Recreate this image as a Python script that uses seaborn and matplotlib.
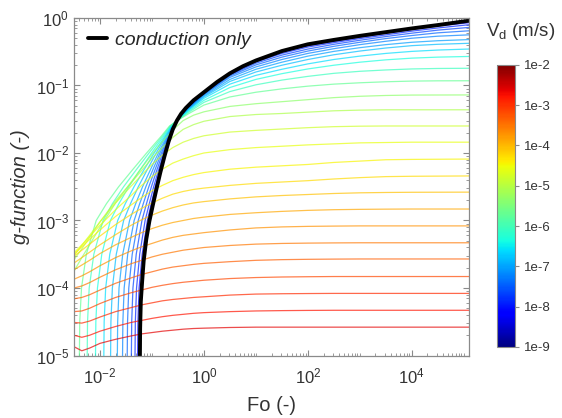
import numpy as np
import pandas as pd
import matplotlib
matplotlib.use("Agg")
import matplotlib.pyplot as plt
from matplotlib.colors import LogNorm
from matplotlib.ticker import LogLocator, NullFormatter, FixedLocator
import seaborn as sns

# log10(Vd) of each coloured curve, lowest plateau first
VD_EXP = [-2.62, -2.78, -2.95, -3.15, -3.33, -3.52, -3.70, -3.88, -4.07, -4.25,
          -4.45, -4.59, -4.80, -5.08, -5.36, -5.71, -6.06, -6.34, -6.62, -6.83,
          -7.04, -7.25, -7.46, -7.67, -7.88, -8.09]

# curves 0-14 start at the left edge: log10(g) read at these log10(Fo)
A_LOGFO = [-2.5, -2.35, -2.2, -2.0, -1.7, -1.4, -1.2, -1.0, -0.8, -0.6, -0.4,
           -0.2, 0.0, 0.5, 1.0, 1.5, 2.0, 2.5, 3.0, 3.5, 4.0, 5.1]
A_LOGG = [
    [-4.87, -4.93, -4.89, -4.82, -4.76, -4.71, -4.68, -4.66, -4.64, -4.625, -4.61, -4.60, -4.595, -4.585, -4.58, -4.58, -4.58, -4.58, -4.58, -4.58, -4.58, -4.58],
    [-4.70, -4.73, -4.70, -4.64, -4.57, -4.51, -4.48, -4.45, -4.425, -4.405, -4.39, -4.375, -4.365, -4.35, -4.34, -4.335, -4.332, -4.33, -4.33, -4.33, -4.33, -4.33],
    [-4.51, -4.52, -4.49, -4.43, -4.35, -4.29, -4.25, -4.22, -4.19, -4.17, -4.155, -4.14, -4.13, -4.105, -4.09, -4.085, -4.082, -4.08, -4.08, -4.08, -4.08, -4.08],
    [-4.35, -4.34, -4.30, -4.23, -4.14, -4.07, -4.03, -3.99, -3.96, -3.935, -3.915, -3.90, -3.885, -3.86, -3.845, -3.837, -3.833, -3.83, -3.83, -3.83, -3.83, -3.83],
    [-4.16, -4.14, -4.10, -4.03, -3.93, -3.85, -3.80, -3.76, -3.72, -3.69, -3.67, -3.65, -3.635, -3.61, -3.59, -3.58, -3.575, -3.572, -3.57, -3.57, -3.57, -3.57],
    [-4.00, -3.97, -3.92, -3.84, -3.73, -3.64, -3.59, -3.54, -3.50, -3.47, -3.44, -3.42, -3.40, -3.37, -3.35, -3.34, -3.335, -3.332, -3.33, -3.33, -3.33, -3.33],
    [-3.87, -3.82, -3.76, -3.67, -3.55, -3.45, -3.39, -3.34, -3.29, -3.25, -3.22, -3.20, -3.18, -3.14, -3.11, -3.095, -3.087, -3.083, -3.08, -3.08, -3.08, -3.08],
    [-3.73, -3.66, -3.59, -3.49, -3.36, -3.25, -3.18, -3.12, -3.07, -3.03, -3.00, -2.97, -2.95, -2.91, -2.885, -2.865, -2.85, -2.84, -2.835, -2.832, -2.83, -2.83],
    [-3.63, -3.55, -3.47, -3.36, -3.21, -3.07, -2.99, -2.92, -2.86, -2.81, -2.77, -2.74, -2.72, -2.68, -2.65, -2.63, -2.615, -2.60, -2.59, -2.585, -2.582, -2.58],
    [-3.53, -3.44, -3.35, -3.23, -3.06, -2.91, -2.82, -2.74, -2.67, -2.61, -2.57, -2.54, -2.52, -2.48, -2.45, -2.43, -2.41, -2.385, -2.365, -2.35, -2.345, -2.34],
    [-3.50, -3.39, -3.28, -3.14, -2.94, -2.77, -2.66, -2.56, -2.48, -2.41, -2.36, -2.32, -2.29, -2.24, -2.21, -2.19, -2.17, -2.14, -2.12, -2.10, -2.095, -2.09],
    [-3.48, -3.36, -3.24, -3.07, -2.84, -2.63, -2.48, -2.35, -2.24, -2.15, -2.09, -2.04, -2.00, -1.95, -1.92, -1.90, -1.88, -1.865, -1.85, -1.845, -1.84, -1.84],
    [-3.52, -3.37, -3.22, -3.02, -2.74, -2.49, -2.33, -2.17, -2.03, -1.92, -1.84, -1.785, -1.745, -1.69, -1.665, -1.645, -1.625, -1.61, -1.603, -1.60, -1.60, -1.60],
    [-3.58, -3.42, -3.25, -3.02, -2.71, -2.44, -2.26, -2.08, -1.92, -1.77, -1.65, -1.58, -1.53, -1.46, -1.43, -1.415, -1.395, -1.375, -1.365, -1.36, -1.36, -1.36],
    [-3.75, -3.55, -3.36, -3.10, -2.74, -2.43, -2.22, -2.02, -1.83, -1.66, -1.52, -1.44, -1.39, -1.31, -1.27, -1.24, -1.21, -1.18, -1.16, -1.148, -1.142, -1.14],
]

# curves 15-25 rise from the bottom: log10(Fo) read at these log10(g) ...
B_LEFT_LOGG = [-5.3, -4.5, -4.0, -3.5, -3.0, -2.75, -2.5, -2.25, -2.0, -1.75, -1.6]
B_LEFT_LOGFO = [
    [-2.400, -2.390, -2.356, -2.263, -2.073, -1.875, -1.641, -1.375, -1.103, -0.820, -0.662],
    [-2.250, -2.240, -2.208, -2.119, -1.941, -1.760, -1.546, -1.304, -1.057, -0.797, -0.651],
    [-2.090, -2.080, -2.049, -1.966, -1.800, -1.636, -1.446, -1.229, -1.007, -0.773, -0.640],
    [-1.930, -1.920, -1.891, -1.812, -1.660, -1.513, -1.345, -1.154, -0.957, -0.749, -0.629],
    [-1.800, -1.790, -1.762, -1.687, -1.545, -1.413, -1.263, -1.093, -0.917, -0.730, -0.620],
    [-1.670, -1.660, -1.634, -1.563, -1.431, -1.313, -1.181, -1.031, -0.877, -0.710, -0.610],
    [-1.570, -1.560, -1.535, -1.467, -1.343, -1.236, -1.118, -0.984, -0.846, -0.695, -0.603],
    [-1.480, -1.470, -1.446, -1.380, -1.264, -1.167, -1.061, -0.942, -0.818, -0.682, -0.597],
    [-1.400, -1.390, -1.366, -1.303, -1.193, -1.105, -1.011, -0.905, -0.793, -0.670, -0.592],
    [-1.330, -1.320, -1.297, -1.236, -1.132, -1.051, -0.967, -0.872, -0.771, -0.659, -0.587],
    [-1.280, -1.270, -1.248, -1.188, -1.088, -1.013, -0.935, -0.848, -0.756, -0.652, -0.583],
]
# ... and log10(g) read at these log10(Fo) once they have joined the bundle
B_RIGHT_LOGFO = [-0.5, -0.3, 0.0, 0.5, 1.0, 1.5, 2.0, 2.5, 3.0, 3.5, 4.0, 4.5, 5.1]
B_RIGHT_LOGG = [
    [-1.515, -1.42, -1.29, -1.17, -1.10, -1.05, -1.01, -0.98, -0.96, -0.945, -0.935, -0.931, -0.93],
    [-1.512, -1.40, -1.25, -1.09, -0.99, -0.92, -0.865, -0.82, -0.79, -0.77, -0.755, -0.748, -0.745],
    [-1.51, -1.385, -1.22, -1.03, -0.91, -0.825, -0.755, -0.70, -0.655, -0.62, -0.595, -0.58, -0.57],
    [-1.508, -1.37, -1.19, -0.98, -0.85, -0.76, -0.68, -0.615, -0.565, -0.525, -0.495, -0.475, -0.46],
    [-1.506, -1.36, -1.17, -0.94, -0.80, -0.70, -0.615, -0.545, -0.49, -0.445, -0.41, -0.39, -0.375],
    [-1.504, -1.35, -1.155, -0.91, -0.76, -0.655, -0.565, -0.495, -0.44, -0.395, -0.36, -0.337, -0.32],
    [-1.503, -1.34, -1.14, -0.88, -0.725, -0.615, -0.525, -0.455, -0.395, -0.345, -0.30, -0.27, -0.25],
    [-1.502, -1.33, -1.13, -0.86, -0.695, -0.58, -0.49, -0.42, -0.36, -0.305, -0.26, -0.22, -0.19],
    [-1.501, -1.325, -1.12, -0.845, -0.67, -0.55, -0.46, -0.39, -0.33, -0.275, -0.225, -0.18, -0.14],
    [-1.50, -1.32, -1.11, -0.835, -0.65, -0.525, -0.43, -0.365, -0.305, -0.25, -0.195, -0.148, -0.10],
    [-1.50, -1.315, -1.105, -0.825, -0.635, -0.505, -0.41, -0.345, -0.285, -0.225, -0.17, -0.12, -0.07],
]

# conduction only
COND_LOGFO = [-1.235, -1.228, -1.215, -1.19, -1.16, -1.11, -1.05, -0.98, -0.91, -0.84,
              -0.76, -0.68, -0.60, -0.52, -0.44, -0.35, -0.2, 0.0, 0.25, 0.5, 0.75,
              1.0, 1.5, 2.0, 2.5, 3.0, 3.5, 4.0, 4.5, 5.1]
COND_LOGG = [-5.3, -4.6, -4.2, -3.91, -3.60, -3.28, -3.01, -2.76, -2.52, -2.29,
             -2.05, -1.83, -1.65, -1.52, -1.42, -1.335, -1.22, -1.10, -0.95, -0.82, -0.715,
             -0.63, -0.49, -0.39, -0.325, -0.265, -0.21, -0.155, -0.105, -0.04]

CB_TICKS = [1e-9, 1e-8, 1e-7, 1e-6, 1e-5, 1e-4, 1e-3, 1e-2]
CB_LABELS = ["1e-9", "1e-8", "1e-7", "1e-6", "1e-5", "1e-4", "1e-3", "1e-2"]


def build_frame():
    rows = []
    for i, yy in enumerate(A_LOGG):
        for lx, ly in zip(A_LOGFO, yy):
            rows.append((i, 10 ** lx, 10 ** ly, 10 ** VD_EXP[i]))
    for j in range(len(B_LEFT_LOGFO)):
        i = len(A_LOGG) + j
        pts = list(zip(B_LEFT_LOGFO[j], B_LEFT_LOGG)) + list(zip(B_RIGHT_LOGFO, B_RIGHT_LOGG[j]))
        for lx, ly in pts:
            rows.append((i, 10 ** lx, 10 ** ly, 10 ** VD_EXP[i]))
    return pd.DataFrame(rows, columns=["curve", "Fo", "g", "Vd"])


sns.set_style("ticks")
plt.rcParams["font.family"] = ["Liberation Sans", "DejaVu Sans"]
plt.rcParams["mathtext.fontset"] = "custom"
plt.rcParams["mathtext.rm"] = "Liberation Sans"
plt.rcParams["mathtext.it"] = "Liberation Sans:italic"

df = build_frame()
norm = LogNorm(1e-9, 1e-2)
jet = matplotlib.colormaps["jet"]
grey = "#8a8a8a"
txt = "#333333"

fig = plt.figure(figsize=(5.62, 4.18), dpi=100)
ax = fig.add_axes([0.1317, 0.1495, 0.7028, 0.8075])

sns.lineplot(data=df, x="Fo", y="g", hue="Vd", units="curve", estimator=None,
             palette=jet, hue_norm=norm, legend=False, lw=0.9, alpha=0.7, ax=ax)
sns.lineplot(x=10 ** np.array(COND_LOGFO), y=10 ** np.array(COND_LOGG), color="black",
             lw=2.8, label="conduction only", ax=ax)

ax.set_xscale("log")
ax.set_yscale("log")
ax.set_xlim(10 ** -2.5, 10 ** 5.1)
ax.set_ylim(1e-5, 1)

ax.xaxis.set_major_locator(FixedLocator([1e-2, 1e0, 1e2, 1e4]))
ax.xaxis.set_minor_locator(LogLocator(base=10, subs=np.arange(1, 10), numticks=30))
ax.xaxis.set_minor_formatter(NullFormatter())
ax.yaxis.set_major_locator(LogLocator(base=10, numticks=10))
ax.yaxis.set_minor_locator(LogLocator(base=10, subs=np.arange(2, 10), numticks=30))
ax.yaxis.set_minor_formatter(NullFormatter())

ax.tick_params(which="both", direction="in", top=True, right=True, color=grey,
               labelcolor=txt, labelsize=12)
ax.tick_params(which="major", length=4)
ax.tick_params(which="minor", length=2)
ax.tick_params(axis="x", which="major", pad=8)
for s in ax.spines.values():
    s.set_color(grey)
    s.set_linewidth(0.9)

ax.set_xlabel("Fo (-)", fontsize=14.5, color=txt, labelpad=7)
ax.set_ylabel("g-function (-)", fontsize=14.5, color=txt, style="italic", labelpad=4)

leg = ax.legend(loc="upper left", frameon=False, handlelength=1.0, handletextpad=0.4,
                borderaxespad=0.3, prop={"style": "italic", "size": 14})

cax = fig.add_axes([0.884, 0.170, 0.032, 0.675])
sm = plt.cm.ScalarMappable(cmap=jet, norm=norm)
cb = fig.colorbar(sm, cax=cax)
cb.set_ticks(CB_TICKS)
cb.set_ticklabels(CB_LABELS)
cb.ax.minorticks_off()
cb.ax.tick_params(labelsize=9.5, color=grey, labelcolor=txt, length=3)
cb.outline.set_edgecolor(grey)
fig.text(0.927, 0.925, "V$_\\mathrm{d}$ (m/s)", ha="center", va="center",
         fontsize=13.5, color=txt)

fig.savefig("out.png", dpi=100)
